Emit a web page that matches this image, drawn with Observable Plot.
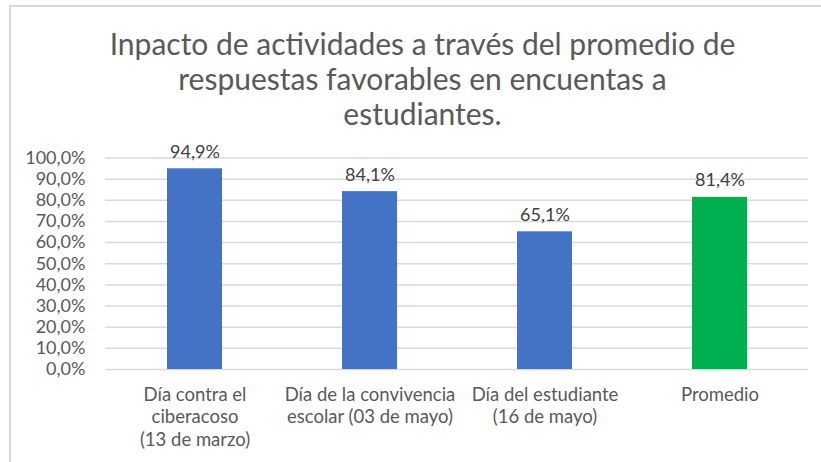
<!DOCTYPE html>
<html>
<head>
<meta charset="utf-8">
<script src="https://cdn.jsdelivr.net/npm/d3@7"></script>
<script src="https://cdn.jsdelivr.net/npm/@observablehq/plot@0.6"></script>
<style>
  html, body { margin: 0; padding: 0; background: #fff; }
  #frame {
    position: absolute; left: 9px; top: 5px; width: 812px; height: 457px;
    border-left: 2px solid #d9d9d9; border-top: 2px solid #d9d9d9;
  }
  #title {
    position: absolute; left: 0; top: 0; width: 821px; height: 135px;
    font-family: Lato, sans-serif; font-size: 30px; color: #595959;
    text-align: center; line-height: 35px; box-sizing: border-box; padding-top: 26px;
    padding-left: 24px;
  }
  #chart { position: absolute; left: 0; top: 135px; }
</style>
</head>
<body>
<div id="frame"></div>
<div id="title">Inpacto de actividades a través del promedio de<br>respuestas favorables en encuentas a<br>estudiantes.</div>
<div id="chart"></div>
<script>
const categories = [
  "Día contra el\nciberacoso\n(13 de marzo)",
  "Día de la convivencia\nescolar (03 de mayo)",
  "Día del estudiante\n(16 de mayo)",
  "Promedio"
];
const values = [0.949, 0.841, 0.651, 0.814];
const valueLabels = ["94,9%", "84,1%", "65,1%", "81,4%"];
const barColors = ["#4472C4", "#4472C4", "#4472C4", "#00B050"];
const tickValues = [0, 0.1, 0.2, 0.3, 0.4, 0.5, 0.6, 0.7, 0.8, 0.9, 1.0];
const tickLabels = ["0,0%", "10,0%", "20,0%", "30,0%", "40,0%", "50,0%", "60,0%", "70,0%", "80,0%", "90,0%", "100,0%"];

const data = categories.map((c, i) => ({cat: c, value: values[i], label: valueLabels[i], color: barColors[i]}));

const chart = Plot.plot({
  width: 821,
  height: 327,
  marginTop: 22.5,
  marginBottom: 93,
  marginLeft: 105,
  marginRight: 13,
  style: {fontFamily: "Lato, sans-serif", fontSize: "18px", color: "#595959", background: "transparent"},
  x: {domain: categories, paddingInner: 0.6875, paddingOuter: 0.34375, label: null},
  y: {domain: [0, 1], label: null},
  marks: [
    Plot.gridY(tickValues, {stroke: "#d9d9d9", strokeOpacity: 1, strokeWidth: 1.5}),
    Plot.axisY(tickValues, {tickSize: 0, tickPadding: 20, tickFormat: (d) => tickLabels[tickValues.indexOf(d)], fontSize: 18, fill: "#595959"}),
    Plot.axisX({tickSize: 0, tickPadding: 16, fontSize: 18.5, fill: "#595959", lineHeight: 1.2}),
    Plot.barY(data, {x: "cat", y: "value", fill: "color"}),
    Plot.text(data, {x: "cat", y: "value", text: "label", dy: -11, lineAnchor: "bottom", fontSize: 18, fill: "#404040"})
  ]
});
document.getElementById("chart").appendChild(chart);
</script>
</body>
</html>
